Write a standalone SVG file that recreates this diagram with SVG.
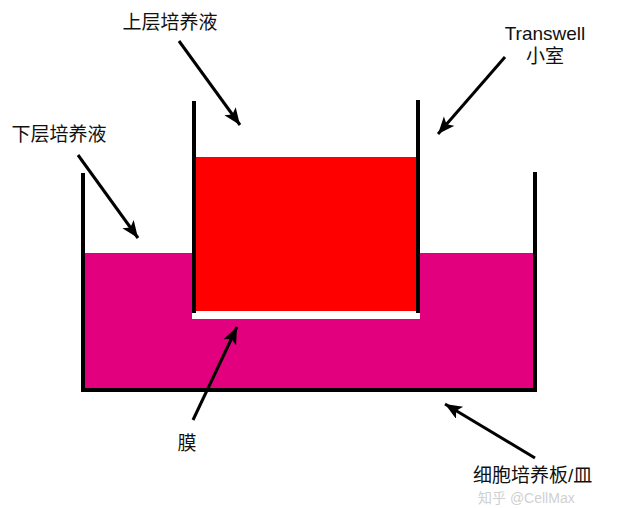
<svg xmlns="http://www.w3.org/2000/svg" width="620" height="508" viewBox="0 0 620 508">
<defs>
<style>
.lbl{font-family:"Liberation Sans","Noto Sans CJK SC",sans-serif;font-size:19px;fill:#111;}
.wm{font-family:"Liberation Sans","Noto Sans CJK SC",sans-serif;font-size:14px;fill:#d0d0d0;}
.wall{stroke:#000;stroke-width:4;fill:none;stroke-linecap:square;}
.arr{stroke:#000;stroke-width:3;fill:none;marker-end:url(#ah);}
</style>
<marker id="ah" markerUnits="userSpaceOnUse" markerWidth="20" markerHeight="16" refX="17" refY="7" orient="auto">
<path d="M0,0 L17,7 L0,14 L4,7 Z" fill="#000"/>
</marker>
</defs>
<rect width="620" height="508" fill="#fff"/>
<g id="plate">
<rect x="85" y="253" width="448" height="136" fill="#E2007E"/>
<path class="wall" d="M83,175 V390 H535 V174"/>
</g>
<g id="insert">
<rect x="196" y="157" width="220" height="154" fill="#FF0000"/>
<rect x="192" y="311" width="228" height="8" fill="#fff"/>
<line class="wall" x1="194" y1="103" x2="194" y2="311"/>
<line class="wall" x1="418" y1="102" x2="418" y2="311"/>
</g>
<g id="connectors">
<line class="arr" x1="179" y1="41" x2="240" y2="125"/>
<line class="arr" x1="505" y1="57" x2="438" y2="134"/>
<line class="arr" x1="78" y1="155" x2="138" y2="238"/>
<line class="arr" x1="193" y1="420" x2="237" y2="327"/>
<line class="arr" x1="535" y1="458" x2="445" y2="404"/>
</g>
<g id="label-upper"><text class="lbl" x="170" y="29" text-anchor="middle">上层培养液</text></g>
<g id="label-transwell"><text class="lbl" x="545" y="40" text-anchor="middle">Transwell</text><text class="lbl" x="545" y="63" text-anchor="middle">小室</text></g>
<g id="label-lower"><text class="lbl" x="59" y="141" text-anchor="middle">下层培养液</text></g>
<g id="label-membrane"><text class="lbl" x="187" y="450" text-anchor="middle">膜</text></g>
<g id="label-plate">
<text class="lbl" x="473" y="482">细胞培养板/皿</text>
<text class="wm" x="478" y="503">知乎 @CellMax</text>
</g>
</svg>
